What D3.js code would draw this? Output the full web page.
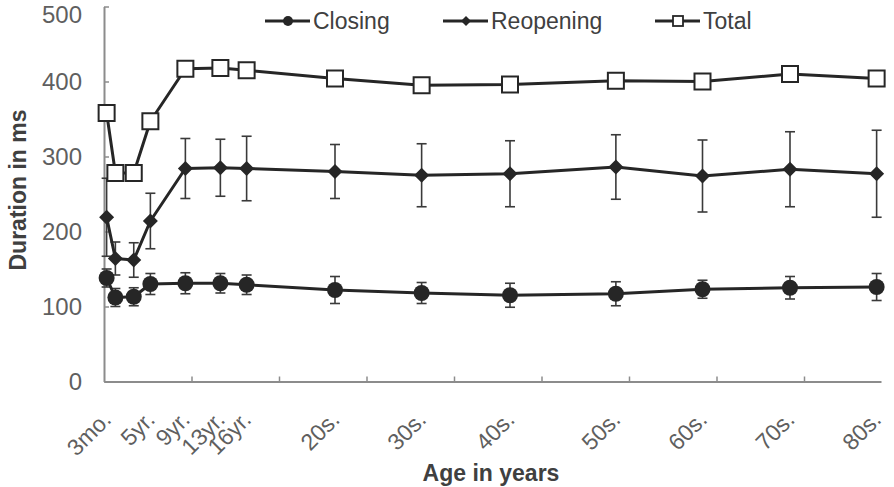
<!DOCTYPE html>
<html><head><meta charset="utf-8">
<script src="https://cdn.jsdelivr.net/npm/d3@7"></script>
<style>
html,body{margin:0;padding:0;background:#fff;}
svg{display:block;font-family:"Liberation Sans",Arial,sans-serif;}
</style></head>
<body><svg id="chart" width="894" height="487"></svg>
<script>
// ---- data ----
const ages = [0.3, 1.3, 3.4, 5.3, 9.3, 13.3, 16.3, 26.4, 36.3, 46.4, 58.5, 68.4, 78.4, 88.3];
const ageLabels = ["3mo.", "", "", "5yr.", "9yr.", "13yr.", "16yr.", "20s.", "30s.", "40s.", "50s.", "60s.", "70s.", "80s."];
const closing = [138, 112, 113, 130, 131, 131, 129, 122, 118, 115, 117, 123, 125, 126];
const closingErr = [12, 12, 12, 14, 14, 13, 13, 18, 14, 16, 16, 12, 15, 18];
const reopening = [219, 164, 162, 214, 284, 285, 284, 280, 275, 277, 286, 274, 283, 277];
const reopeningErr = [52, 22, 23, 37, 40, 38, 43, 36, 42, 44, 43, 48, 50, 58];
const total = [358, 278, 278, 347, 417, 418, 415, 404, 395, 396, 401, 400, 410, 404];
const yTicks = [0, 100, 200, 300, 400, 500];
const xTicks = [10, 20, 30, 40, 50, 60, 70, 80];
const seriesNames = ["Closing", "Reopening", "Total"];

const svg = d3.select("#chart");
const x = d3.scaleLinear().domain([0, 88.8]).range([104, 881]);
const y = d3.scaleLinear().domain([0, 500]).range([381.5, 6.5]);
const ink = "#262626";
const axisCol = "#8c8c8c";

// axes
const yAxis = svg.append("g").attr("transform", "translate(104,0)")
  .call(d3.axisLeft(y).tickValues(yTicks).tickSizeInner(-5).tickSizeOuter(0).tickPadding(22));
const xAxis = svg.append("g").attr("transform", "translate(0,381.5)")
  .call(d3.axisBottom(x).tickValues(xTicks).tickSizeInner(-5).tickSizeOuter(0).tickFormat(""));
[yAxis, xAxis].forEach(g => {
  g.select(".domain").attr("stroke", axisCol).attr("stroke-width", 2);
  g.selectAll(".tick line").attr("stroke", axisCol).attr("stroke-width", 1.5);
});
yAxis.selectAll("text").attr("font-size", 24).attr("fill", "#5f5f5f")
  .attr("font-family", "Liberation Sans, Arial, sans-serif")
  .attr("dy", d => d === 500 ? "15.5px" : "0.34em");

// x category labels (rotated)
svg.append("g").selectAll("text").data(ages.map((a, i) => ({a, l: ageLabels[i]})).filter(d => d.l))
  .join("text")
  .attr("transform", d => `translate(${x(d.a) + 6},421) rotate(-45)`)
  .attr("text-anchor", "end")
  .attr("font-size", 23).attr("fill", "#5f5f5f")
  .text(d => d.l);

// axis titles
svg.append("text").attr("x", 491).attr("y", 481).attr("text-anchor", "middle")
  .attr("font-size", 23).attr("font-weight", "bold").attr("fill", "#404040").text("Age in years");
svg.append("text").attr("transform", "translate(26,190) rotate(-90)").attr("text-anchor", "middle")
  .attr("font-size", 23).attr("font-weight", "bold").attr("fill", "#404040").text("Duration in ms");

// error bars
function errorBars(vals, errs) {
  const g = svg.append("g").attr("stroke", "#3a3a3a").attr("stroke-width", 1.6).attr("fill", "none");
  vals.forEach((v, i) => {
    const cx = x(ages[i]);
    g.append("line").attr("x1", cx).attr("x2", cx).attr("y1", y(v - errs[i])).attr("y2", y(v + errs[i]));
    g.append("line").attr("x1", cx - 5).attr("x2", cx + 5).attr("y1", y(v - errs[i])).attr("y2", y(v - errs[i]));
    g.append("line").attr("x1", cx - 5).attr("x2", cx + 5).attr("y1", y(v + errs[i])).attr("y2", y(v + errs[i]));
  });
}
errorBars(closing, closingErr);
errorBars(reopening, reopeningErr);

// lines
const line = d3.line().x((d, i) => x(ages[i])).y(d => y(d));
[closing, reopening, total].forEach(s => {
  svg.append("path").datum(s).attr("d", line).attr("fill", "none")
    .attr("stroke", ink).attr("stroke-width", 3).attr("stroke-linejoin", "round");
});

// markers
function diamondPath(r) { return `M0,${-r}L${r},0L0,${r}L${-r},0Z`; }
svg.append("g").selectAll("circle").data(closing).join("circle")
  .attr("cx", (d, i) => x(ages[i])).attr("cy", d => y(d)).attr("r", 8).attr("fill", ink);
svg.append("g").selectAll("path").data(reopening).join("path")
  .attr("transform", (d, i) => `translate(${x(ages[i])},${y(d)})`).attr("d", diamondPath(7.5)).attr("fill", ink);
svg.append("g").selectAll("rect").data(total).join("rect")
  .attr("x", (d, i) => x(ages[i]) - 8).attr("y", d => y(d) - 8).attr("width", 16).attr("height", 16)
  .attr("fill", "#fff").attr("stroke", ink).attr("stroke-width", 2);

// legend
const legX = [265, 443, 655];
const leg = svg.append("g");
seriesNames.forEach((name, i) => {
  const lx = legX[i], ly = 21;
  leg.append("line").attr("x1", lx).attr("x2", lx + 45).attr("y1", ly).attr("y2", ly)
    .attr("stroke", ink).attr("stroke-width", 3);
  const mx = lx + 23;
  if (i === 0) leg.append("circle").attr("cx", mx).attr("cy", ly).attr("r", 5).attr("fill", ink);
  else if (i === 1) leg.append("path").attr("transform", `translate(${mx},${ly})`).attr("d", diamondPath(5)).attr("fill", ink);
  else leg.append("rect").attr("x", mx - 5).attr("y", ly - 5).attr("width", 10).attr("height", 10)
    .attr("fill", "#fff").attr("stroke", ink).attr("stroke-width", 1.8);
  leg.append("text").attr("x", lx + 48).attr("y", ly + 8).attr("font-size", 23).attr("fill", "#404040").text(name);
});
</script>
</body></html>
